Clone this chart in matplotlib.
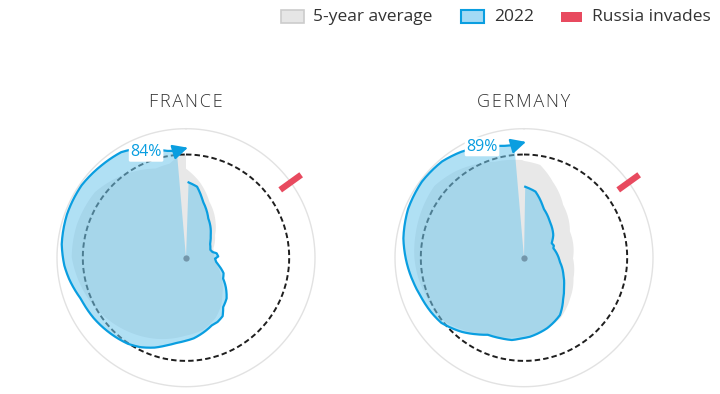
import numpy as np
import matplotlib.pyplot as plt
from matplotlib.patches import Rectangle

plt.rcParams['font.family'] = ['Open Sans', 'DejaVu Sans']

# gas storage, % full, by day of year (0 = 1 Jan)
countries = ['FRANCE', 'GERMANY']
latest = [84, 89]
invasion_day = 55

fr_days = [2, 9, 17, 30, 48, 60, 73, 79, 83, 89, 93, 99, 104, 114, 121, 128, 137, 145,
           150, 156, 161, 168, 177, 183, 189, 195, 202, 210, 217, 226, 232, 240, 252,
           263, 270, 280, 294, 309, 322, 333, 340, 347, 355, 360]
fr_2022 = [58.4, 55.7, 45.5, 35, 26, 21.7, 19.8, 21, 24, 25, 22.5, 23.5, 25.7, 31.5, 33,
           38.2, 44.6, 47.9, 53.5, 55.5, 56, 59, 62.8, 64.5, 66.5, 69.5, 73.8, 77.9, 80.5,
           82.5, 83.8, 85.5, 87.5, 92, 94.5, 96.9, 98.2, 98.5, 97, 96, 93, 88, 84, 83]
fr_avg_days = [0, 10, 23, 40, 53, 72, 91, 106, 122, 137, 145, 156, 169, 183, 203, 225,
               250, 274, 291, 310, 326, 346, 355, 361, 365]
fr_avg = [69, 60, 47, 36, 28.4, 22.4, 21.5, 25, 32, 40, 45.5, 52, 57.5, 60.5, 67, 74,
          82, 88.6, 88.4, 87, 81, 73, 74, 79, 80]

de_days = [1, 10, 22, 36, 53, 63, 69, 73, 86, 98, 115, 127, 138, 150, 157, 164, 178, 184,
           191, 199, 208, 215, 223, 235, 243, 252, 260, 268, 276, 283, 297, 311, 324, 334,
           343, 350, 355, 360]
de_2022 = [55, 52, 41, 34.4, 28.7, 24.2, 25, 23.9, 26, 28, 33.3, 38, 43.8, 52.5, 55, 57.5,
           61.4, 62.5, 64.5, 65, 66, 70, 75, 81.6, 83.5, 85.3, 87.5, 90, 92.5, 94.7, 97.5,
           98.7, 98, 95.4, 92, 89.5, 88, 87.5]
de_avg_days = [0, 10, 21, 37, 61, 92, 114, 133, 151, 167, 183, 191, 203, 214, 234, 246,
               263, 274, 286, 304, 313, 326, 348, 364]
de_avg = [75, 73, 63, 51, 41, 38, 41.5, 47.6, 54.7, 58, 61, 62.5, 65, 68.5, 78.8, 80.4,
          83.5, 85, 86, 88, 89, 85.5, 77.7, 75.7]

BLUE = '#0a9ee0'
GRAY = '#e8e8e8'
RED = '#e84a5f'
W, H = 720, 394
RMAX = 115
PX = 1.29  # pixels per percent


def theta(days):
    return 2 * np.pi * np.asarray(days, dtype=float) / 365


def curved(artist):
    # let the polar transform draw segments as arcs instead of chords
    artist.get_path()._interpolation_steps = 20
    return artist


def make_ax(fig, cx, cy):
    rpx = PX * RMAX
    ax = fig.add_axes([(cx - rpx) / W, (H - cy - rpx) / H, 2 * rpx / W, 2 * rpx / H],
                      projection='polar')
    ax.set_theta_zero_location('N')
    ax.set_theta_direction(-1)
    ax.set_ylim(0, RMAX)
    ax.axis('off')
    return ax


def draw_country(ax, days, vals, avg_days, avg, label):
    circ = np.linspace(0, 2 * np.pi, 361)
    ax.plot(circ, np.full_like(circ, 100), color='#e2e2e2', lw=1.0, zorder=1)
    # 5-year average
    curved(ax.fill(theta(avg_days), avg, color=GRAY, lw=0, zorder=2)[0])
    # dashed 80% ring
    ax.plot(circ, np.full_like(circ, 80), color='#1e1e1e', lw=1.4, dashes=(2.8, 1.6), zorder=3)
    # 2022 wedge
    th = theta(days)
    curved(ax.fill(np.r_[th[0], th, th[-1]], np.r_[0, vals, 0], color='#73c8ed',
                   alpha=0.56, lw=0, zorder=4)[0])
    curved(ax.plot(th, vals, color=BLUE, lw=1.6, zorder=5, solid_joinstyle='round')[0])
    ax.annotate('', xy=(theta(days[-1] + 6), vals[-1] + 2.3),
                xytext=(th[-1], vals[-1]),
                arrowprops=dict(arrowstyle='-|>,head_length=0.9,head_width=0.45',
                                color=BLUE, lw=1.6, mutation_scale=10,
                                shrinkA=0, shrinkB=0), zorder=5)
    ax.text(theta(344), vals[-1] + 4.5, f'{label}%', ha='center', va='center',
            fontsize=11.5, color=BLUE, zorder=7,
            bbox=dict(boxstyle='round,pad=0.1', fc='white', ec='none'))
    # invasion marker
    t = theta(invasion_day)
    ax.plot([t, t], [90, 110], color=RED, lw=4.5, solid_capstyle='butt', zorder=6)
    ax.plot([0], [0], 'o', ms=4.5, color='#7396aa', mec='none', zorder=8)


fig = plt.figure(figsize=(W / 100, H / 100), dpi=100)

centers = [(186, 257.7), (524, 257.7)]
series = [(fr_days, fr_2022, fr_avg_days, fr_avg), (de_days, de_2022, de_avg_days, de_avg)]
for (cx, cy), name, s, lab in zip(centers, countries, series, latest):
    ax = make_ax(fig, cx, cy)
    draw_country(ax, *s, lab)
    fig.text(cx / W, (H - 102) / H, '\u200a'.join(name), ha='center', va='center',
             fontsize=13, fontweight='light', color='#333333')

# legend
def legend_box(x0, x1, y0, y1, fc, ec, lw):
    fig.add_artist(Rectangle((x0 / W, (H - y1) / H), (x1 - x0) / W, (y1 - y0) / H,
                             transform=fig.transFigure, fc=fc, ec=ec, lw=lw))

legend_box(281, 304, 10.5, 23, '#e6e6e6', '#cccccc', 1.2)
fig.text(313 / W, (H - 17) / H, '5-year average', ha='left', va='center', fontsize=12.5,
         color='#333333')
legend_box(461, 484, 10.5, 23, '#a3daf5', BLUE, 1.5)
fig.text(494 / W, (H - 17) / H, '2022', ha='left', va='center', fontsize=12.5,
         color='#333333')
legend_box(561, 582, 12, 22, RED, 'none', 0)
fig.text(592 / W, (H - 17) / H, 'Russia invades', ha='left', va='center', fontsize=12.5,
         color='#333333')

fig.savefig('out.png', dpi=100)
